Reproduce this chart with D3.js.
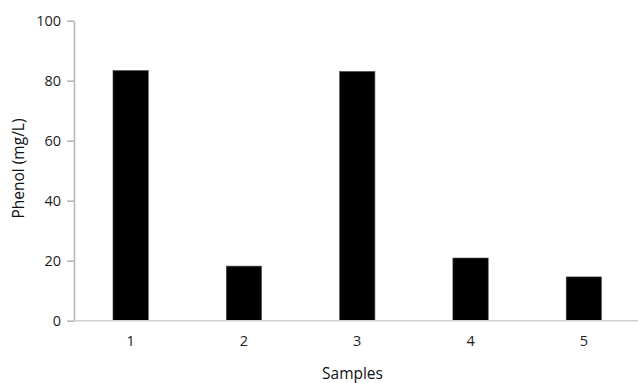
<!DOCTYPE html>
<html>
<head>
<meta charset="utf-8">
<script src="https://cdn.jsdelivr.net/npm/d3@7/dist/d3.min.js"></script>
<style>
  html, body { margin: 0; padding: 0; background: #fff; }
  svg { display: block; }
  text { font-family: "Open Sans", "DejaVu Sans", sans-serif; }
</style>
</head>
<body>
<svg id="chart" width="638" height="383"></svg>
<script>
// Phenol concentration per sample
const samples = ["1", "2", "3", "4", "5"];
const phenol = [83.4, 18.2, 83.1, 20.9, 14.6];
const yTicks = [0, 20, 40, 60, 80, 100];

const svg = d3.select("#chart");
const plotLeft = 74, plotRight = 640.5, plotTop = 20.7, plotBottom = 320.7;

const x = d3.scaleBand()
  .domain(samples)
  .range([plotLeft, plotRight])
  .paddingInner(0.688)
  .paddingOuter(0.344);

const y = d3.scaleLinear().domain([0, 100]).range([plotBottom, plotTop]);

// bars
svg.append("g").selectAll("rect")
  .data(samples.map((s, i) => ({ s, v: phenol[i] })))
  .join("rect")
  .attr("x", d => x(d.s))
  .attr("width", x.bandwidth())
  .attr("y", d => y(d.v))
  .attr("height", d => y(0) - y(d.v))
  .attr("fill", "#000")
  .attr("stroke", "#555")
  .attr("stroke-width", 0.6);

// y axis
const yAxis = svg.append("g")
  .attr("transform", `translate(${plotLeft},0)`)
  .call(d3.axisLeft(y).tickValues(yTicks).tickSize(7).tickSizeOuter(0).tickPadding(6));
yAxis.select(".domain").attr("stroke", "#b3b3b3").attr("stroke-width", 1.5);
yAxis.selectAll(".tick line").attr("stroke", "#b3b3b3").attr("stroke-width", 1.5);
yAxis.selectAll(".tick text")
  .attr("fill", "#1e1e1e").style("font-size", "14.5px");

// x axis
const xAxis = svg.append("g")
  .attr("transform", `translate(0,${plotBottom})`)
  .call(d3.axisBottom(x).tickSize(0).tickSizeOuter(0).tickPadding(15));
xAxis.select(".domain").attr("stroke", "#cfcfcf").attr("stroke-width", 1.5)
  .attr("d", `M${plotLeft},0H638`);
xAxis.selectAll(".tick text")
  .attr("fill", "#1e1e1e").style("font-size", "14.5px");

// axis titles
svg.append("text")
  .attr("x", 352.5).attr("y", 379)
  .attr("text-anchor", "middle")
  .attr("fill", "#111")
  .style("font-size", "15.5px")
  .text("Samples");

svg.append("text")
  .attr("transform", "translate(24,168.5) rotate(-90)")
  .attr("text-anchor", "middle")
  .attr("fill", "#111")
  .style("font-size", "15.5px")
  .text("Phenol (mg/L)");
</script>
</body>
</html>
